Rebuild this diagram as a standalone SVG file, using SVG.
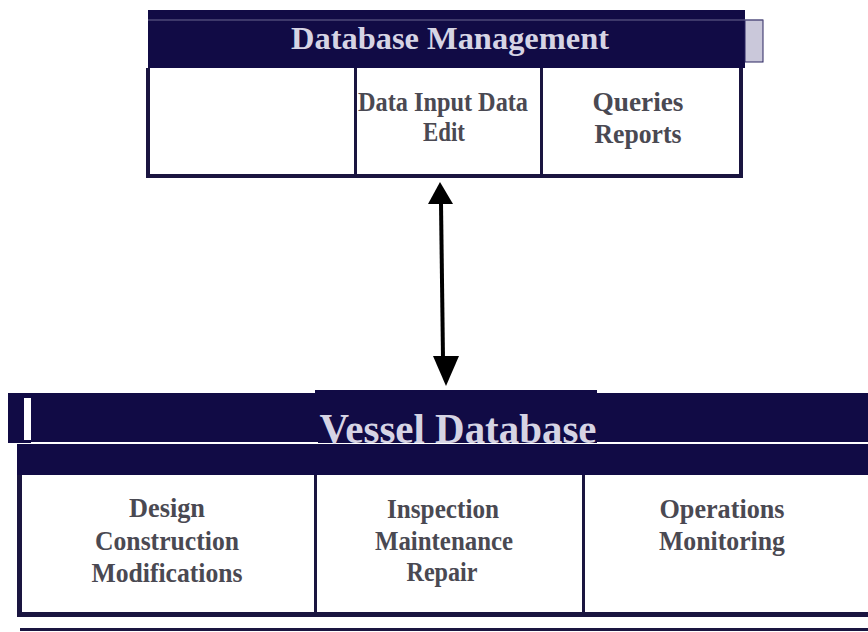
<svg xmlns="http://www.w3.org/2000/svg" width="868" height="632" viewBox="0 0 868 632">
<defs>
<style>
.hdr{fill:#110b45}
.bd{fill:#1a1540}
.ttl{font-family:"Liberation Serif","Times New Roman",serif;font-weight:bold;fill:#d6d4e4;text-anchor:middle}
.lbl{font-family:"Liberation Serif","Times New Roman",serif;font-weight:bold;fill:#4a4952;font-size:28px;text-anchor:middle}
</style>
</defs>
<rect width="868" height="632" fill="#fff"/>

<g id="database-management">
<rect x="148" y="10" width="597" height="58" class="hdr"/>
<rect x="745" y="20" width="18" height="42" fill="#cac8da" stroke="#2a2560" stroke-width="1"/>
<line x1="148" y1="20" x2="763" y2="20" stroke="#6a6690" stroke-width="1"/>
<text x="450" y="49" class="ttl" font-size="32" textLength="318" lengthAdjust="spacingAndGlyphs">Database Management</text>
<rect x="146" y="68" width="4" height="110" class="bd"/>
<rect x="146" y="174" width="596" height="4" class="bd"/>
<rect x="354" y="68" width="3" height="110" class="bd"/>
<rect x="540" y="68" width="3" height="110" class="bd"/>
<rect x="739" y="68" width="4" height="110" class="bd"/>
<text x="443" y="111" class="lbl" textLength="170" lengthAdjust="spacingAndGlyphs">Data Input Data</text>
<text x="444" y="141" class="lbl" textLength="42" lengthAdjust="spacingAndGlyphs">Edit</text>
<text x="638" y="111" class="lbl" textLength="91" lengthAdjust="spacingAndGlyphs">Queries</text>
<text x="638" y="143" class="lbl" textLength="87" lengthAdjust="spacingAndGlyphs">Reports</text>
</g>

<g id="connectors">
<path d="M440,182 L453,204 L428,204 Z" fill="#000"/>
<line x1="441" y1="203" x2="443" y2="358" stroke="#000" stroke-width="4"/>
<path d="M433,356 L459,356 L446,386 Z" fill="#000"/>
</g>

<g id="vessel-database">
<rect x="8" y="393" width="860" height="50" class="hdr"/>
<rect x="315" y="390" width="282" height="6" class="hdr"/>
<rect x="24" y="398" width="7" height="42" fill="#fff"/>
<line x1="31" y1="443" x2="318" y2="443" stroke="#fff" stroke-width="2"/>
<line x1="597" y1="443" x2="868" y2="443" stroke="#fff" stroke-width="2"/>
<rect x="17" y="444" width="851" height="31" class="hdr"/>
<text x="458" y="443" class="ttl" font-size="42" textLength="277" lengthAdjust="spacingAndGlyphs">Vessel Database</text>
<rect x="17" y="475" width="5" height="142" class="bd"/>
<rect x="17" y="612" width="851" height="5" class="bd"/>
<rect x="20" y="628" width="848" height="3" class="bd"/>
<rect x="314" y="475" width="3" height="142" class="bd"/>
<rect x="582" y="475" width="3" height="142" class="bd"/>
<text x="167" y="517" class="lbl" textLength="76" lengthAdjust="spacingAndGlyphs">Design</text>
<text x="167" y="550" class="lbl" textLength="144" lengthAdjust="spacingAndGlyphs">Construction</text>
<text x="167" y="582" class="lbl" textLength="151" lengthAdjust="spacingAndGlyphs">Modifications</text>
<text x="443" y="518" class="lbl" textLength="112" lengthAdjust="spacingAndGlyphs">Inspection</text>
<text x="444" y="550" class="lbl" textLength="138" lengthAdjust="spacingAndGlyphs">Maintenance</text>
<text x="442" y="581" class="lbl" textLength="71" lengthAdjust="spacingAndGlyphs">Repair</text>
<text x="722" y="518" class="lbl" textLength="125" lengthAdjust="spacingAndGlyphs">Operations</text>
<text x="722" y="550" class="lbl" textLength="126" lengthAdjust="spacingAndGlyphs">Monitoring</text>
</g>
</svg>
